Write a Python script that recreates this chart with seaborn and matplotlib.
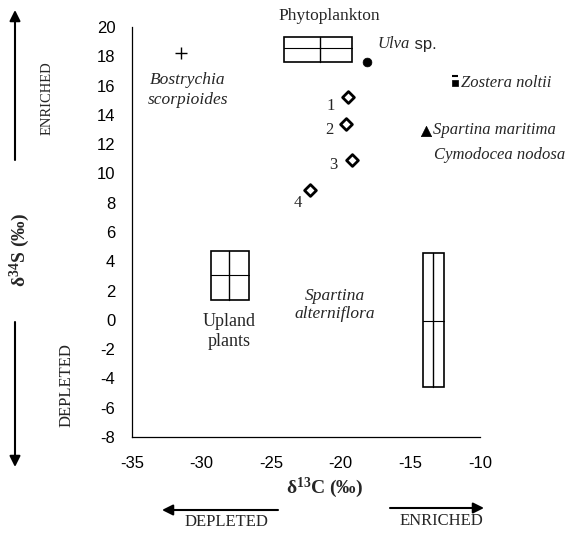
import matplotlib
matplotlib.use("Agg")
import matplotlib.pyplot as plt
import seaborn as sns
import pandas as pd
from matplotlib.patches import Rectangle

# ---- data ----
box_names = ["Phytoplankton", "Upland plants", "Spartina alterniflora"]
box_x_lo = [-24.1, -29.3, -14.1]
box_x_hi = [-19.2, -26.6, -12.6]
box_x_med = [-21.5, -28.0, -13.35]
box_y_lo = [17.6, 1.35, -4.6]
box_y_hi = [19.3, 4.7, 4.55]
box_y_med = [18.6, 3.05, -0.1]

species = ["Bostrychia scorpioides", "Ulva sp.", "Zostera noltii", "Spartina maritima"]
species_c = [-31.5, -18.1, -11.8, -13.9]
species_s = [18.2, 17.6, 16.2, 12.9]

site_labels = ["1", "2", "3", "4"]
site_c = [-19.5, -19.6, -19.2, -22.2]
site_s = [15.2, 13.4, 10.9, 8.9]

x_ticks = [-35, -30, -25, -20, -15, -10]
y_ticks = [20, 18, 16, 14, 12, 10, 8, 6, 4, 2, 0, -2, -4, -6, -8]

# ---- style ----
sns.set_theme(style="white")
plt.rcParams["font.family"] = ["Liberation Serif", "DejaVu Serif"]
plt.rcParams["mathtext.fontset"] = "custom"
plt.rcParams["mathtext.rm"] = "Liberation Serif"
plt.rcParams["mathtext.it"] = "Liberation Serif:italic"
plt.rcParams["mathtext.bf"] = "Liberation Serif:bold"

W, H = 578, 535
fig = plt.figure(figsize=(W / 100, H / 100), dpi=100)
ax = fig.add_axes([132 / W, 1 - 437 / H, (480 - 132) / W, (437 - 27) / H])

sp_df = pd.DataFrame({"c": species_c, "s": species_s, "name": species})
site_df = pd.DataFrame({"c": site_c, "s": site_s, "lab": site_labels})

# boxes
for xl, xh, xm, yl, yh, ym in zip(box_x_lo, box_x_hi, box_x_med, box_y_lo, box_y_hi, box_y_med):
    ax.add_patch(Rectangle((xl, yl), xh - xl, yh - yl, fill=False, ec="black", lw=1.2))
    ax.plot([xm, xm], [yl, yh], color="black", lw=1.0)
    ax.plot([xl, xh], [ym, ym], color="black", lw=0.8)

# species markers
markers = ["P", "o", "s", "^"]
mk = {"Bostrychia scorpioides": ("+", 70, 1.0), "Ulva sp.": ("o", 40, 0.5),
      "Zostera noltii": ("s", 14, 0.5), "Spartina maritima": ("^", 55, 0.5)}
for name in species:
    m, s, lw = mk[name]
    sub = sp_df[sp_df["name"] == name]
    sns.scatterplot(data=sub, x="c", y="s", marker=m, s=s, color="black",
                    edgecolor="black", linewidth=lw, ax=ax, legend=False, zorder=3)
# small bar above Zostera marker
zr = sp_df[sp_df["name"] == "Zostera noltii"]
ax.plot(zr["c"], zr["s"] + 0.45, marker="_", ms=5, mew=1.5, color="black", ls="none")

# sites (open diamonds)
sns.scatterplot(data=site_df, x="c", y="s", marker="D", s=36, facecolor="white",
                edgecolor="black", linewidth=2.0, ax=ax, legend=False, zorder=3)
lab_off = [(-1.25, -0.6), (-1.25, -0.45), (-1.35, -0.3), (-0.9, -0.9)]
for (dx, dy), c, s, lab in zip(lab_off, site_c, site_s, site_labels):
    ax.text(c + dx, s + dy, lab, fontsize=12, ha="center", va="center")

# text labels
ax.text(-20.8, 20.75, "Phytoplankton", fontsize=12.5, ha="center", va="center", clip_on=False)
t_ulva = ax.text(-17.35, 18.85, "Ulva", fontsize=12, style="italic", ha="left", va="center")
ax.annotate(" sp.", xy=(1, 0), xycoords=t_ulva, va="bottom", ha="left", fontsize=12,
            family=["Liberation Sans"])
ax.text(-31.0, 15.7, "Bostrychia\nscorpioides", fontsize=12.5, style="italic",
        ha="center", va="center", linespacing=1.3)
ax.text(-11.35, 16.15, "Zostera noltii", fontsize=12, style="italic", ha="left", va="center")
ax.text(-13.35, 12.95, "Spartina maritima", fontsize=12, style="italic", ha="left", va="center")
ax.text(-13.3, 11.25, "Cymodocea nodosa", fontsize=12, style="italic", ha="left", va="center")
ax.text(-28.0, -0.8, "Upland\nplants", fontsize=13, ha="center", va="center", linespacing=1.2)
ax.text(-20.4, 1.0, "Spartina\nalterniflora", fontsize=12.5, style="italic",
        ha="center", va="center", linespacing=1.2)

# axes
ax.set_xlim(-35, -10)
ax.set_ylim(-8, 20)
ax.set_xticks(x_ticks)
ax.set_yticks(y_ticks)
ax.set_xticklabels([str(v) for v in x_ticks], family=["Liberation Sans"], fontsize=12)
ax.set_yticklabels([str(v) for v in y_ticks], family=["Liberation Sans"], fontsize=12)
ax.tick_params(axis="x", direction="in", length=4, width=0.8, pad=14, colors="black")
ax.tick_params(axis="y", direction="in", length=4, width=0.8, pad=12, colors="black")
for side in ["top", "right"]:
    ax.spines[side].set_visible(False)
for side in ["left", "bottom"]:
    ax.spines[side].set_color("black")
    ax.spines[side].set_linewidth(0.9)
ax.set_xlabel("")
ax.set_ylabel("")

# axis titles (figure pixel coords)
fig.text(325 / W, 1 - 488 / H, "δ$^{\\mathbf{13}}$C (‰)", fontsize=14, fontweight="bold",
         ha="center", va="center")
fig.text(20 / W, 1 - 250 / H, "δ$^{\\mathbf{34}}$S (‰)", fontsize=14, fontweight="bold",
         ha="center", va="center", rotation=90)

# direction arrows
ap = dict(arrowstyle="-|>", lw=1.5, color="black", mutation_scale=16, shrinkA=0, shrinkB=0)
fig_pix = "figure pixels"
ax.annotate("", xy=(15, H - 10), xytext=(15, H - 160), xycoords=fig_pix, textcoords=fig_pix, arrowprops=ap)
ax.annotate("", xy=(15, H - 467), xytext=(15, H - 322), xycoords=fig_pix, textcoords=fig_pix, arrowprops=ap)
ax.annotate("", xy=(162, H - 510), xytext=(278, H - 510), xycoords=fig_pix, textcoords=fig_pix, arrowprops=ap)
ax.annotate("", xy=(484, H - 508), xytext=(390, H - 508), xycoords=fig_pix, textcoords=fig_pix, arrowprops=ap)

fig.text(47 / W, 1 - 98 / H, "ENRICHED", fontsize=10.5, rotation=90, ha="center", va="center")
fig.text(67 / W, 1 - 385 / H, "DEPLETED", fontsize=12, rotation=90, ha="center", va="center")
fig.text(226 / W, 1 - 522 / H, "DEPLETED", fontsize=12, ha="center", va="center")
fig.text(441 / W, 1 - 521 / H, "ENRICHED", fontsize=12, ha="center", va="center")

fig.savefig("out.png", dpi=100)
